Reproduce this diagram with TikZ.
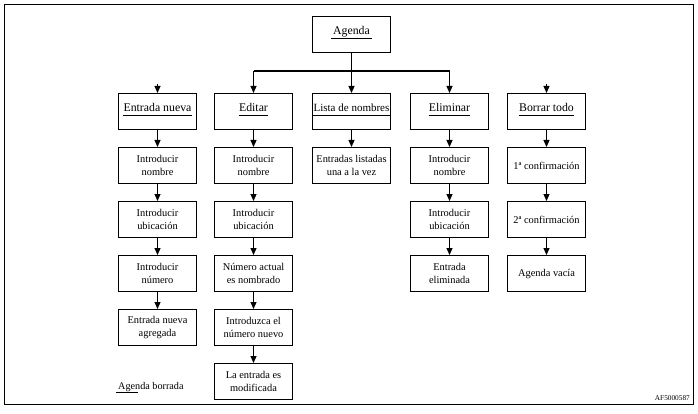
\documentclass[tikz,border=0pt]{standalone}
\usepackage{fontspec}
\setmainfont{Liberation Serif}
\usetikzlibrary{arrows.meta}
\begin{document}
\begin{tikzpicture}[x=1pt,y=-1pt,
  box/.style={draw,line width=1.1pt,minimum width=78pt,minimum height=36pt,inner sep=0pt,anchor=north},
  body/.style={box,align=center,font=\fontsize{10.4}{13}\selectfont},
  ttl/.style={anchor=base,inner sep=0pt,font=\fontsize{11.8}{14}\selectfont},
  uline/.style={line width=0.8pt},
  arr/.style={line width=1.1pt,-{Triangle[width=6pt,length=7pt]}},
  note/.style={inner sep=0pt,font=\fontsize{10.2}{12}\selectfont},
]
\useasboundingbox (0,0) rectangle (698,414);
\draw[line width=1.6pt] (4.5,4.5) rectangle (693.5,404.5);

% top
\node[box] (agenda) at (351.5,16) {};
\node[ttl] (agendat) at (351.5,35) {Agenda};
\draw[uline] ([xshift=-2pt,yshift=-3.5pt]agendat.base west) -- ([xshift=2pt,yshift=-3.5pt]agendat.base east);

% heads
\node[box] (c1) at (157.5,93) {};
\node[ttl] (c1t) at (157.5,112) {Entrada nueva};
\node[box] (c2) at (253.5,93) {};
\node[ttl] (c2t) at (253.5,112) {Editar};
\node[box] (c3) at (351.5,93) {};
\node[ttl,font=\fontsize{11}{13}\selectfont] (c3t) at (351.5,112) {Lista de nombres};
\node[box] (c4) at (449.5,93) {};
\node[ttl] (c4t) at (449.5,112) {Eliminar};
\node[box] (c5) at (546.5,93) {};
\node[ttl] (c5t) at (546.5,112) {Borrar todo};
\foreach \t in {c1t,c2t,c3t,c4t,c5t}
  \draw[uline] ([yshift=-3.5pt]\t.base west) -- ([yshift=-3.5pt]\t.base east);

% column 1
\node[body] (c1b) at (157.5,147) {Introducir\\nombre};
\node[body] (c1c) at (157.5,201) {Introducir\\ubicación};
\node[body] (c1d) at (157.5,255) {Introducir\\número};
\node[body] (c1e) at (157.5,309) {Entrada nueva\\agregada};

% column 2
\node[body] (c2b) at (253.5,147) {Introducir\\nombre};
\node[body] (c2c) at (253.5,201) {Introducir\\ubicación};
\node[body] (c2d) at (253.5,255) {Número actual\\es nombrado};
\node[body] (c2e) at (253.5,309) {Introduzca el\\número nuevo};
\node[body] (c2f) at (253.5,363) {La entrada es\\modificada};

% column 3
\node[body] (c3b) at (351.5,147) {Entradas listadas\\una a la vez};

% column 4
\node[body] (c4b) at (449.5,147) {Introducir\\nombre};
\node[body] (c4c) at (449.5,201) {Introducir\\ubicación};
\node[body] (c4d) at (449.5,255) {Entrada\\eliminada};

% column 5
\node[body] (c5b) at (546.5,147) {1ª confirmación};
\node[body] (c5c) at (546.5,201) {2ª confirmación};
\node[body] (c5d) at (546.5,255) {Agenda vacía};

% bus
\coordinate (bus) at (351.5,71);
\coordinate (s1) at (157.5,84);
\coordinate (s5) at (546.5,84);
\draw[line width=1.1pt] (bus -| c2) -- (bus -| c4);
\draw[arr] (agenda.south) -- (agenda.south |- c3.north);
\draw[arr] (bus -| c2) -- (c2);
\draw[arr] (bus -| c4) -- (c4);
\draw[arr] (s1) -- (c1);
\draw[arr] (s5) -- (c5);

\draw[arr] (c1) -- (c1b);
\draw[arr] (c1b) -- (c1c);
\draw[arr] (c1c) -- (c1d);
\draw[arr] (c1d) -- (c1e);
\draw[arr] (c2) -- (c2b);
\draw[arr] (c2b) -- (c2c);
\draw[arr] (c2c) -- (c2d);
\draw[arr] (c2d) -- (c2e);
\draw[arr] (c2e) -- (c2f);
\draw[arr] (c3) -- (c3b);
\draw[arr] (c4) -- (c4b);
\draw[arr] (c4b) -- (c4c);
\draw[arr] (c4c) -- (c4d);
\draw[arr] (c5) -- (c5b);
\draw[arr] (c5b) -- (c5c);
\draw[arr] (c5c) -- (c5d);

% notes
\node[note,anchor=base west] (borrada) at (118,389) {Agenda borrada};
\draw[uline] ([xshift=-2pt,yshift=-3pt]borrada.base west) -- ([xshift=20pt,yshift=-3pt]borrada.base west);
\node[inner sep=0pt,anchor=base east,font=\fontsize{7.3}{9}\selectfont] (code) at (690,400) {AF5000587};
\end{tikzpicture}
\end{document}
